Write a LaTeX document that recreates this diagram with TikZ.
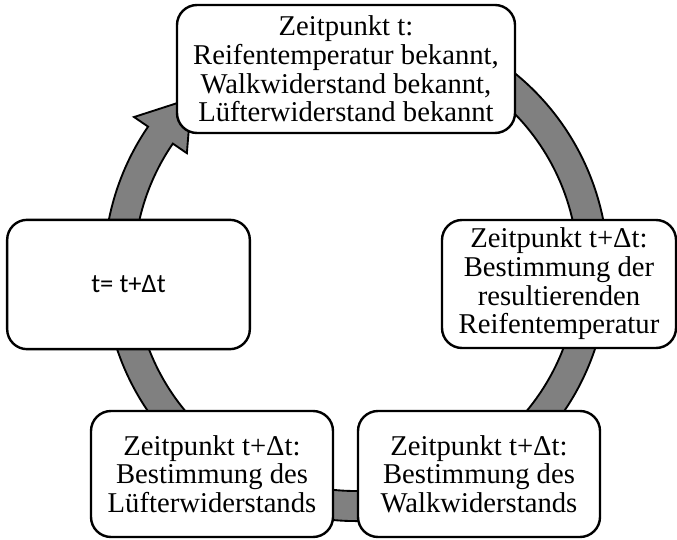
\documentclass[tikz,border=0pt]{standalone}
\usepackage{fontspec}
\setmainfont{Liberation Serif}
\newfontfamily\calibri{Carlito}
\begin{document}
\begin{tikzpicture}[x=0.75pt,y=0.75pt,
    stage/.style={draw=black,line width=1.8pt,fill=white,rounded corners=15pt,
      align=center,inner sep=0pt,font=\fontsize{21.5}{21.5}\selectfont},
    ring/.style={draw=black,line width=1.4pt,fill=gray,line join=miter}]
    \useasboundingbox (0,0) rectangle (677,539);
    \begin{scope}[shift={(356,270)}]
        \draw[ring] (70:252) arc[start angle=70,end angle=-214.4,radius=252]
            -- (145.6:269) -- (134:237) -- (145.6:205) -- (145.6:222)
            arc[start angle=-214.4,end angle=70,radius=222] -- cycle;
    \end{scope}
    \node[stage,minimum width=253.5pt,minimum height=96pt] (known) at (346,470)
        {Zeitpunkt t:\\Reifentemperatur bekannt,\\Walkwiderstand bekannt,\\Lüfterwiderstand bekannt};
    \node[stage,minimum width=175.5pt,minimum height=96pt] (temp) at (559,255)
        {Zeitpunkt t+Δt:\\Bestimmung der\\resultierenden\\Reifentemperatur};
    \node[stage,minimum width=181.5pt,minimum height=94.5pt] (walk) at (479,65)
        {Zeitpunkt t+Δt:\\Bestimmung des\\Walkwiderstands};
    \node[stage,minimum width=181.5pt,minimum height=94.5pt] (luefter) at (212,65)
        {Zeitpunkt t+Δt:\\Bestimmung des\\Lüfterwiderstands};
    \node[stage,minimum width=182pt,minimum height=97pt,font=\calibri\fontsize{20}{22}\selectfont] (next) at (128.5,254.5)
        {t= t+Δt};
\end{tikzpicture}
\end{document}
